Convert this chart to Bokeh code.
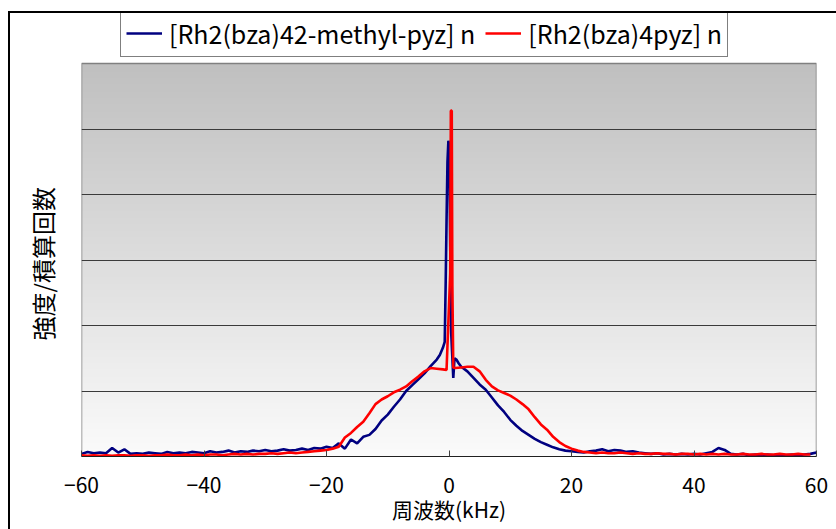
import numpy as np
from bokeh.plotting import figure
from bokeh.models import (ColumnDataSource, Legend, LegendItem, FixedTicker,
                          Range1d, InlineStyleSheet, Title)
from bokeh.embed import file_html
from bokeh.resources import INLINE

# ---------------- data ----------------
blue_x = list(range(-60, -1)) + [-1.5, -1, -0.7, -0.55, -0.4, -0.25, -0.1, 0.05, 0.2, 0.35,
                                  0.5, 0.7, 0.9, 1.2, 1.6] + list(range(2, 61))
blue_y = [0.04, 0.07, 0.05, 0.06, 0.05, 0.13, 0.06, 0.11, 0.04, 0.05,
          0.04, 0.06, 0.05, 0.04, 0.07, 0.05, 0.06, 0.05, 0.07, 0.06,
          0.05, 0.08, 0.06, 0.07, 0.09, 0.06, 0.08, 0.07, 0.09, 0.08,
          0.10, 0.08, 0.09, 0.11, 0.09, 0.10, 0.12, 0.10, 0.13, 0.12,
          0.15, 0.13, 0.20, 0.12, 0.26, 0.20, 0.30, 0.33, 0.42, 0.55,
          0.64, 0.76, 0.87, 1.00, 1.09, 1.18, 1.27, 1.38, 1.48,
          1.55, 1.66, 1.75, 2.60, 3.60, 4.50, 4.82, 4.75, 3.20, 1.90,
          1.60, 1.20, 1.50, 1.48, 1.42,
          1.37, 1.30, 1.20, 1.10, 1.02, 0.90, 0.78, 0.68, 0.56, 0.47,
          0.39, 0.33, 0.27, 0.22, 0.18, 0.14, 0.11, 0.09, 0.08, 0.07,
          0.06, 0.08, 0.09, 0.11, 0.08, 0.10, 0.09, 0.07, 0.08, 0.06,
          0.05, 0.04, 0.05, 0.03, 0.04, 0.03, 0.04, 0.03, 0.04, 0.03,
          0.05, 0.07, 0.13, 0.10, 0.04, 0.03, 0.04, 0.02, 0.03, 0.02,
          0.03, 0.02, 0.03, 0.02, 0.03, 0.02, 0.03, 0.04, 0.06]

red_x = list(range(-60, -1)) + [-1, -0.4, 0.2, 0.3, 0.45, 0.55, 0.7, 1] + list(range(2, 61))
red_y = [0.02, 0.01, 0.02, 0.01, 0.02, 0.01, 0.02, 0.02, 0.01, 0.02,
         0.02, 0.01, 0.02, 0.02, 0.03, 0.02, 0.02, 0.03, 0.02, 0.03,
         0.02, 0.03, 0.03, 0.02, 0.03, 0.04, 0.03, 0.04, 0.03, 0.04,
         0.04, 0.05, 0.04, 0.05, 0.06, 0.05, 0.06, 0.07, 0.08, 0.09,
         0.10, 0.12, 0.15, 0.29, 0.36, 0.45, 0.53, 0.66, 0.80, 0.87,
         0.92, 0.98, 1.02, 1.07, 1.15, 1.22, 1.30, 1.35, 1.34,
         1.33, 1.32, 2.80, 5.28, 5.28, 2.60, 1.36, 1.35,
         1.36, 1.37, 1.37, 1.30, 1.17, 1.07, 1.01, 0.97, 0.93,
         0.87, 0.80, 0.72, 0.60, 0.49, 0.41, 0.30, 0.22, 0.16, 0.12,
         0.09, 0.07, 0.06, 0.05, 0.06, 0.05, 0.05, 0.06, 0.05, 0.04,
         0.05, 0.04, 0.04, 0.05, 0.04, 0.04, 0.03, 0.04, 0.04, 0.03,
         0.04, 0.03, 0.04, 0.03, 0.04, 0.03, 0.03, 0.04, 0.03, 0.03,
         0.04, 0.03, 0.03, 0.04, 0.03, 0.03, 0.04, 0.03, 0.03]

series_names = ["[Rh2(bza)42-methyl-pyz] n", "[Rh2(bza)4pyz] n"]
x_ticks = [-60, -40, -20, 0, 20, 40, 60]
x_tick_labels = ["\u221260", "\u221240", "\u221220", "0", "20", "40", "60"]
grid_levels = [1, 2, 3, 4, 5]
x_title = "周波数(kHz)"
y_title = "強度/積算回数"

X_MIN, X_MAX = -60, 60
Y_MIN, Y_MAX = 0, 6

FONT = "Noto Sans CJK JP"

# layout (pixels): frame reaches up to the legend so the legend is not clipped;
# the plot area proper (gradient box) spans y = 0..6
W, H = 836, 529
FRAME_TOP, AREA_TOP, AREA_BOTTOM = 12, 63, 456
Y_TOP = Y_MAX * (AREA_BOTTOM - FRAME_TOP) / (AREA_BOTTOM - AREA_TOP)

p = figure(width=W, height=H, output_backend="svg", toolbar_location=None,
           x_range=Range1d(X_MIN, X_MAX), y_range=Range1d(Y_MIN, Y_TOP),
           min_border_left=74, min_border_right=20, min_border_top=FRAME_TOP,
           min_border_bottom=H - AREA_BOTTOM)
# outer chart border (only its top and left edges fall inside the picture)
p.stylesheets = [InlineStyleSheet(css="""
:host::after {
  content: "";
  position: absolute;
  left: 8px; top: 11px;
  width: 828px; height: 518px;
  box-sizing: border-box;
  border-top: 2px solid #000;
  border-left: 2px solid #000;
  pointer-events: none;
  z-index: 10;
}
""")]

p.background_fill_color = "white"
p.border_fill_color = "white"
p.outline_line_color = None

# gradient background of the plot area (gray at top -> near white at bottom)
n = 256
t = np.linspace(0, 1, n)[:, None]  # row 0 = bottom
g = (251 - (251 - 192) * t).astype(np.uint8)
img = np.zeros((n, 1), dtype=np.uint32)
view = img.view(dtype=np.uint8).reshape((n, 1, 4))
view[:, :, 0] = g
view[:, :, 1] = g
view[:, :, 2] = g
view[:, :, 3] = 255
p.image_rgba(image=[img], x=X_MIN, y=Y_MIN, dw=X_MAX - X_MIN, dh=Y_MAX - Y_MIN, level="image")

# grid
p.xgrid.grid_line_color = None
p.ygrid.ticker = FixedTicker(ticks=grid_levels)
p.ygrid.grid_line_color = "#3a3a3a"
p.ygrid.grid_line_width = 1
p.ygrid.level = "underlay"

# plot-area border (gray) on left, top and right
p.multi_line(xs=[[X_MIN, X_MIN, X_MAX, X_MAX]], ys=[[Y_MIN, Y_MAX, Y_MAX, Y_MIN]],
             line_color="#808080", line_width=1.5, level="underlay")

# lines
src_b = ColumnDataSource(dict(x=blue_x, y=blue_y))
src_r = ColumnDataSource(dict(x=red_x, y=red_y))
rb = p.line("x", "y", source=src_b, line_color="#000080", line_width=2.6)
rr = p.line("x", "y", source=src_r, line_color="#ff0000", line_width=2.6)

# x axis
p.xaxis.ticker = FixedTicker(ticks=x_ticks)
p.xaxis.major_label_overrides = {t_: l_ for t_, l_ in zip(x_ticks, x_tick_labels)}
p.xaxis.major_tick_in = 6
p.xaxis.major_tick_out = 0
p.xaxis.minor_tick_line_color = None
p.xaxis.major_tick_line_color = "#404040"
p.xaxis.axis_line_color = "#202020"
p.xaxis.major_label_text_font = FONT
p.xaxis.major_label_text_font_size = "21px"
p.xaxis.major_label_text_color = "black"
p.xaxis.major_label_standoff = 20
p.xaxis.axis_label = x_title
p.xaxis.axis_label_text_font = FONT
p.xaxis.axis_label_text_font_size = "21px"
p.xaxis.axis_label_text_font_style = "normal"
p.xaxis.axis_label_text_color = "black"
p.xaxis.axis_label_standoff = -2

# y axis: no ticks/labels; its title is placed beside the plot area
p.yaxis.visible = False
ytitle = Title(text=y_title, align="left", offset=116,
               text_font=FONT, text_font_size="24px", text_font_style="normal",
               text_color="black")
if "standoff" in ytitle.properties():
    ytitle.standoff = 44
p.add_layout(ytitle, "left")

# legend (inside the frame, above the plot area)
legend = Legend(items=[LegendItem(label=series_names[0], renderers=[rb]),
                       LegendItem(label=series_names[1], renderers=[rr])],
                orientation="horizontal", location=(39, AREA_BOTTOM - 57))
legend.label_text_font = FONT
legend.label_text_font_size = "25px"
legend.label_text_color = "black"
legend.glyph_width = 36
legend.glyph_height = 28
legend.label_height = 28
legend.label_standoff = 7
legend.spacing = 10
legend.padding = 5
legend.margin = 0
legend.border_line_color = "black"
legend.border_line_width = 1
legend.background_fill_color = "white"
legend.background_fill_alpha = 1
p.add_layout(legend, "center")

open("out.html", "w").write(file_html(p, INLINE))
